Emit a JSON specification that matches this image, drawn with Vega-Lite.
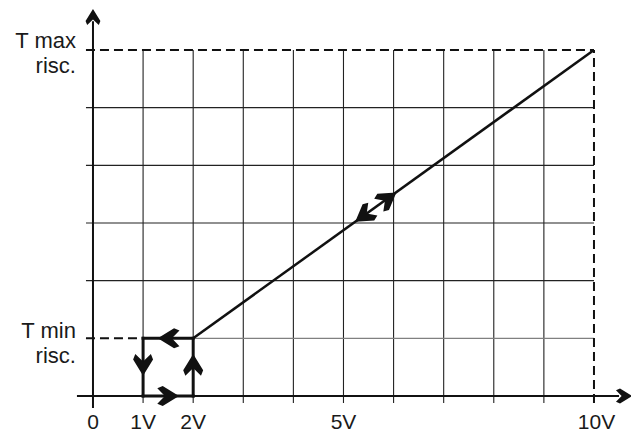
{
  "$schema": "https://vega.github.io/schema/vega-lite/v6.json",
  "width": 631,
  "height": 434,
  "autosize": {"type": "none"},
  "padding": 0,
  "background": "white",
  "config": {"view": {"stroke": null}},
  "datasets": {
    "segs": [
      {"kind": "grid", "x": 1, "x2": 1, "y": -0.12, "y2": 6},
      {"kind": "grid", "x": 2, "x2": 2, "y": -0.12, "y2": 6},
      {"kind": "grid", "x": 3, "x2": 3, "y": -0.12, "y2": 6},
      {"kind": "grid", "x": 4, "x2": 4, "y": -0.12, "y2": 6},
      {"kind": "grid", "x": 5, "x2": 5, "y": -0.12, "y2": 6},
      {"kind": "grid", "x": 6, "x2": 6, "y": -0.12, "y2": 6},
      {"kind": "grid", "x": 7, "x2": 7, "y": -0.12, "y2": 6},
      {"kind": "grid", "x": 8, "x2": 8, "y": -0.12, "y2": 6},
      {"kind": "grid", "x": 9, "x2": 9, "y": -0.12, "y2": 6},
      {"kind": "grid", "x": -0.14, "x2": 10, "y": 2, "y2": 2},
      {"kind": "grid", "x": -0.14, "x2": 10, "y": 3, "y2": 3},
      {"kind": "grid", "x": -0.14, "x2": 10, "y": 4, "y2": 4},
      {"kind": "grid", "x": -0.14, "x2": 10, "y": 5, "y2": 5},
      {"kind": "light", "x": 2, "x2": 10, "y": 1, "y2": 1},
      {"kind": "dash", "x": -0.14, "x2": 10, "y": 6, "y2": 6},
      {"kind": "dash", "x": -0.14, "x2": 1, "y": 1, "y2": 1},
      {"kind": "dash", "x": 10, "x2": 10, "y": -0.12, "y2": 6},
      {"kind": "axis", "x": -0.32, "x2": 10.5, "y": 0, "y2": 0},
      {"kind": "axis", "x": 0, "x2": 0, "y": -0.21, "y2": 6.5},
      {"kind": "thick", "x": 1, "x2": 2, "y": 1, "y2": 1},
      {"kind": "thick", "x": 1, "x2": 1, "y": 0, "y2": 1},
      {"kind": "thick", "x": 2, "x2": 2, "y": 0, "y2": 1},
      {"kind": "thick", "x": 1, "x2": 2, "y": 0, "y2": 0},
      {"kind": "diag", "x": 2, "x2": 10, "y": 1, "y2": 6}
    ],
    "heads": [
      {"x": 1.51, "y": 1, "dir": "left"},
      {"x": 1, "y": 0.54, "dir": "down"},
      {"x": 1.5, "y": 0, "dir": "right"},
      {"x": 2, "y": 0.54, "dir": "up"},
      {"x": 5.41, "y": 3.13, "dir": "dl"},
      {"x": 5.88, "y": 3.42, "dir": "ur"}
    ],
    "axisheads": [
      {"x": 0, "y": 6.572, "dir": "up"},
      {"x": 10.6, "y": 0, "dir": "right"}
    ],
    "leftlabels": [
      {"x": -0.34, "y": 6.03, "text": "T max"},
      {"x": -0.34, "y": 5.6, "text": "risc."},
      {"x": -0.34, "y": 1.0, "text": "T min"},
      {"x": -0.34, "y": 0.57, "text": "risc."}
    ],
    "xlabels": [
      {"x": 0, "y": -0.575, "text": "0"},
      {"x": 1, "y": -0.575, "text": "1V"},
      {"x": 2, "y": -0.575, "text": "2V"},
      {"x": 5, "y": -0.575, "text": "5V"},
      {"x": 10.05, "y": -0.575, "text": "10V"}
    ]
  },
  "encoding": {
    "x": {"field": "x", "type": "quantitative", "scale": {"domain": [-1.856, 10.739], "nice": false, "zero": false}, "axis": null},
    "y": {"field": "y", "type": "quantitative", "scale": {"domain": [-0.659, 6.867], "nice": false, "zero": false}, "axis": null}
  },
  "layer": [
    {
      "data": {"name": "segs"},
      "transform": [{"filter": "datum.kind === 'grid'"}],
      "mark": {"type": "rule", "color": "#222222", "strokeWidth": 1.1},
      "encoding": {"x2": {"field": "x2"}, "y2": {"field": "y2"}}
    },
    {
      "data": {"name": "segs"},
      "transform": [{"filter": "datum.kind === 'light'"}],
      "mark": {"type": "rule", "color": "#808080", "strokeWidth": 1.1},
      "encoding": {"x2": {"field": "x2"}, "y2": {"field": "y2"}}
    },
    {
      "data": {"name": "segs"},
      "transform": [{"filter": "datum.kind === 'dash'"}],
      "mark": {"type": "rule", "color": "#111111", "strokeWidth": 2, "strokeDash": [9, 5]},
      "encoding": {"x2": {"field": "x2"}, "y2": {"field": "y2"}}
    },
    {
      "data": {"name": "segs"},
      "transform": [{"filter": "datum.kind === 'axis'"}],
      "mark": {"type": "rule", "color": "#111111", "strokeWidth": 2},
      "encoding": {"x2": {"field": "x2"}, "y2": {"field": "y2"}}
    },
    {
      "data": {"name": "segs"},
      "transform": [{"filter": "datum.kind === 'thick'"}],
      "mark": {"type": "rule", "color": "#111111", "strokeWidth": 3, "strokeCap": "square"},
      "encoding": {"x2": {"field": "x2"}, "y2": {"field": "y2"}}
    },
    {
      "data": {"name": "segs"},
      "transform": [{"filter": "datum.kind === 'diag'"}],
      "mark": {"type": "rule", "color": "#111111", "strokeWidth": 2.5},
      "encoding": {"x2": {"field": "x2"}, "y2": {"field": "y2"}}
    },
    {
      "data": {"name": "heads"},
      "mark": {"type": "point", "filled": true, "color": "#111111", "opacity": 1, "size": 470, "strokeWidth": 0},
      "encoding": {
        "shape": {"field": "dir", "type": "nominal", "legend": null, "scale": {
          "domain": ["up", "right", "down", "left", "ur", "dl"],
          "range": [
            "M0,-1 L0.92,0.5 L0.72,1 L0,0.3 L-0.72,1 L-0.92,0.5 Z",
            "M1,0 L-0.5,0.92 L-1,0.72 L-0.3,0 L-1,-0.72 L-0.5,-0.92 Z",
            "M0,1 L-0.92,-0.5 L-0.72,-1 L0,-0.3 L0.72,-1 L0.92,-0.5 Z",
            "M-1,0 L0.5,-0.92 L1,-0.72 L0.3,0 L1,0.72 L0.5,0.92 Z",
            "M0.812,-0.584 L0.131,1.039 L-0.392,1.168 L-0.244,0.175 L-1.232,-0.001 L-0.943,-0.455 Z",
            "M-0.812,0.584 L-0.131,-1.039 L0.392,-1.168 L0.244,-0.175 L1.232,0.001 L0.943,0.455 Z"
          ]}}
      }
    },
    {
      "data": {"name": "axisheads"},
      "mark": {"type": "point", "filled": true, "color": "#111111", "opacity": 1, "size": 260, "strokeWidth": 0},
      "encoding": {
        "shape": {"field": "dir", "type": "nominal", "legend": null, "scale": {
          "domain": ["up", "right"],
          "range": ["M0,-1 L0.5,1 L-0.5,1 Z", "M1,0 L-1,0.5 L-1,-0.5 Z"]}}
      }
    },
    {
      "data": {"name": "leftlabels"},
      "mark": {"type": "text", "align": "right", "baseline": "alphabetic", "font": "Liberation Sans", "fontSize": 22, "color": "#1a1a1a"},
      "encoding": {"text": {"field": "text"}}
    },
    {
      "data": {"name": "xlabels"},
      "mark": {"type": "text", "align": "center", "baseline": "alphabetic", "font": "Liberation Sans", "fontSize": 21, "color": "#1a1a1a"},
      "encoding": {"text": {"field": "text"}}
    }
  ]
}
